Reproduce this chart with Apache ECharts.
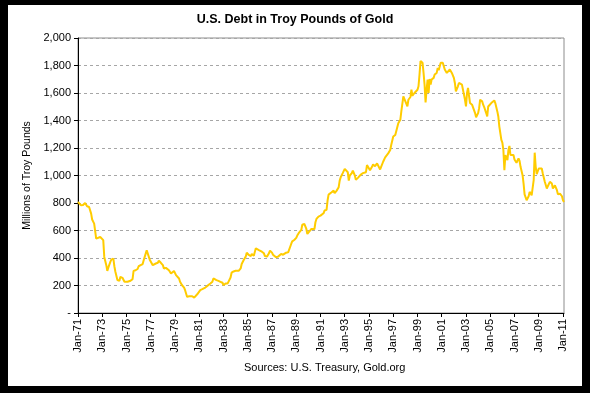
<!DOCTYPE html>
<html>
<head>
<meta charset="utf-8">
<script src="https://cdn.jsdelivr.net/npm/echarts@6/dist/echarts.min.js"></script>
<style>
html,body{margin:0;padding:0;background:#000;width:590px;height:393px;overflow:hidden;}
#panel{position:absolute;left:8px;top:5px;width:574px;height:381px;background:#fff;}
#chart{position:absolute;left:0;top:0;width:590px;height:393px;}
</style>
</head>
<body>
<div id="panel"></div>
<div id="chart"></div>
<script>
// Month index (0 = Jan-71) of each point
const monthIdx = [
0,3,5,7,9,11,13,14,16,18,19,22,23,25,26,28,29,30,32,33,35,36,37,39,41,42,44,46,47,49,
52,54,55,57,59,60,62,64,65,67,68,69,71,72,74,75,77,79,80,82,84,85,87,88,90,92,93,95,97,98,
100,101,103,105,106,108,110,111,113,115,116,118,119,121,123,124,126,128,129,131,133,134,135,137,138,139,141,143,144,146,
148,149,151,152,154,156,157,159,161,162,164,166,167,169,171,172,174,176,177,179,180,182,184,185,187,189,190,192,
193,194,196,198,199,201,203,204,206,208,209,211,212,214,216,217,219,221,222,224,226,227,229,231,232,234,235,236,238,240,
241,243,244,246,247,248,249,251,253,254,256,258,259,260,262,264,265,267,268,269,271,272,274,275,277,278,280,282,283,285,
286,287,289,291,292,294,296,297,299,300,302,304,305,307,309,310,312,314,315,317,319,320,322,323,324,326,327,329,330,331,
333,334,336,337,338,339,341,342,343,344,345,346,347,348,349,350,352,353,355,356,357,359,360,361,363,364,365,366,368,369,
370,372,373,374,376,377,378,380,381,383,384,385,386,387,388,390,391,393,394,396,397,398,400,401,402,404,405,406,407,409,
410,412,413,415,416,417,419,420,421,422,423,424,425,426,427,428,429,431,432,434,436,437,438,440,441,442,444,446,447,449,
451,452,453,454,456,457,459,460,462,464,465,467,469,470,472,474,475,477,479,480,481
];
// Debt in millions of troy pounds of gold
const debtValues = [
807,783,785,800,776,771,723,680,650,541,534,553,565,530,408,348,306,330,372,388,396,340,300,240,235,263,256,227,220,227,
235,246,306,311,320,340,348,356,383,432,456,451,388,383,348,340,360,365,380,365,348,323,328,321,311,287,300,306,275,263,
251,227,202,185,166,117,122,129,122,112,122,136,146,166,173,185,185,197,207,214,227,251,258,239,227,234,227,220,202,214,
214,227,258,293,302,307,300,307,324,356,385,410,439,422,414,429,417,471,478,458,446,446,434,414,410,434,454,439,
424,417,405,410,400,429,424,434,439,441,441,502,521,531,546,563,587,604,643,648,611,575,594,611,599,611,660,684,701,708,
696,725,745,750,818,861,854,878,890,871,890,915,963,987,1017,1048,1060,1024,963,1000,1017,1036,1000,968,983,992,1007,1017,1007,1024,
1076,1063,1039,1063,1080,1068,1088,1083,1044,1063,1100,1132,1137,1161,1185,1222,1283,1295,1307,1380,1405,1466,1576,1580,1539,1502,1551,1571,1624,1580,
1600,1588,1624,1649,1734,1832,1820,1746,1661,1532,1624,1698,1600,1702,1661,1698,1710,1734,1746,1783,1766,1820,1832,1820,1771,1783,1746,1734,1771,1783,
1746,1710,1673,1612,1649,1673,1661,1661,1654,1551,1502,1600,1637,1580,1527,1515,1502,1454,1424,1454,1490,1551,1539,1515,1498,1454,1429,1502,1515,1527,
1539,1546,1527,1466,1429,1356,1259,1239,1185,1039,1149,1161,1112,1185,1215,1149,1137,1149,1117,1093,1124,1107,1063,1002,941,863,820,849,881,856,
966,1166,1063,1010,1051,1039,1051,1015,954,905,922,954,941,905,929,893,863,868,849,820,807
];
const monthNames = ['Jan','Feb','Mar','Apr','May','Jun','Jul','Aug','Sep','Oct','Nov','Dec'];
const firstYear = 1971;
const monthCount = 482;
const categories = [];
for (let i = 0; i < monthCount; i++) {
  const y = firstYear + Math.floor(i / 12);
  categories.push(monthNames[i % 12] + '-' + String(y % 100).padStart(2, '0'));
}
const seriesData = monthIdx.map((m, i) => [m, debtValues[i]]);

const chart = echarts.init(document.getElementById('chart'));
chart.setOption({
  animation: false,
  backgroundColor: 'transparent',
  title: {
    text: 'U.S. Debt in Troy Pounds of Gold',
    left: 'center',
    top: 8,
    textStyle: { fontFamily: 'Liberation Sans, Arial', fontSize: 12.5, fontWeight: 'bold', color: '#000' }
  },
  graphic: [{
    type: 'text',
    left: 244,
    top: 362,
    style: { text: 'Sources: U.S. Treasury, Gold.org', font: '11px "Liberation Sans", Arial', fill: '#000' }
  }],
  grid: { left: 78, right: 26, top: 38, bottom: 80, show: true, borderColor: '#8c8c8c', borderWidth: 1, backgroundColor: 'transparent' },
  xAxis: {
    type: 'category',
    data: categories,
    boundaryGap: false,
    axisLine: { lineStyle: { color: '#000', width: 1 } },
    axisTick: { interval: 23, length: 4, lineStyle: { color: '#000' } },
    axisLabel: { interval: 23, rotate: 90, margin: 6, fontFamily: 'Liberation Sans, Arial', fontSize: 11, color: '#000' },
    splitLine: { show: false }
  },
  yAxis: {
    type: 'value',
    min: 0, max: 2000, interval: 200,
    name: 'Millions of Troy Pounds',
    nameLocation: 'middle',
    nameRotate: 90,
    nameGap: 42,
    nameTextStyle: { fontFamily: 'Liberation Sans, Arial', fontSize: 10.5, color: '#000' },
    axisLine: { show: true, lineStyle: { color: '#000', width: 1 } },
    axisTick: { show: true, length: 4, lineStyle: { color: '#000' } },
    axisLabel: {
      margin: 7, fontFamily: 'Liberation Sans, Arial', fontSize: 11, color: '#000',
      formatter: v => v === 0 ? '-' : String(v).replace(/\B(?=(\d{3})+(?!\d))/g, ',')
    },
    splitLine: { lineStyle: { color: '#a6a6a6', type: [3, 3], width: 1 } }
  },
  series: [{
    type: 'line',
    data: seriesData,
    showSymbol: false,
    symbol: 'none',
    lineStyle: { color: '#FFCC00', width: 2 },
    itemStyle: { color: '#FFCC00' }
  }]
});
</script>
</body>
</html>
